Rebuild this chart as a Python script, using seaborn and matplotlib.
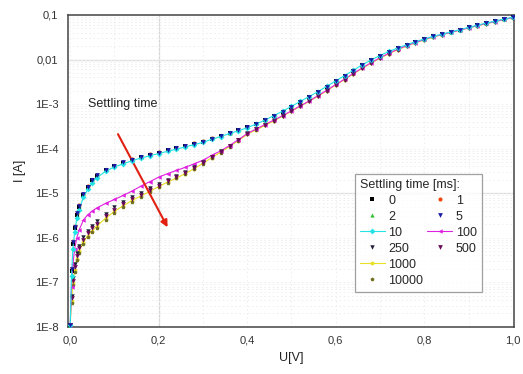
import numpy as np
import pandas as pd
import matplotlib
matplotlib.use("Agg")
import matplotlib.pyplot as plt
from matplotlib.lines import Line2D
from matplotlib.ticker import LogLocator, MultipleLocator, NullFormatter
import seaborn as sns

# voltage steps [V]
U = [0.0, 0.003, 0.006, 0.01, 0.015, 0.02, 0.03, 0.04, 0.05, 0.06,
     0.08, 0.10, 0.12, 0.14, 0.16, 0.18, 0.20, 0.22, 0.24, 0.26,
     0.28, 0.30, 0.32, 0.34, 0.36, 0.38, 0.40, 0.42, 0.44, 0.46,
     0.48, 0.50, 0.52, 0.54, 0.56, 0.58, 0.60, 0.62, 0.64, 0.66,
     0.68, 0.70, 0.72, 0.74, 0.76, 0.78, 0.80, 0.82, 0.84, 0.86,
     0.88, 0.90, 0.92, 0.94, 0.96, 0.98, 1.00]

# log10 of current [A] for each settling time
logI_0 = [-7.95, -6.75, -6.14, -5.78, -5.48, -5.30, -5.04, -4.86, -4.71, -4.61,
          -4.48, -4.39, -4.32, -4.25, -4.19, -4.14, -4.09, -4.04, -3.99, -3.94,
          -3.89, -3.84, -3.78, -3.71, -3.65, -3.59, -3.52, -3.45, -3.36, -3.27,
          -3.17, -3.06, -2.95, -2.84, -2.73, -2.61, -2.49, -2.37, -2.25, -2.13,
          -2.02, -1.92, -1.83, -1.75, -1.67, -1.60, -1.54, -1.48, -1.43, -1.38,
          -1.33, -1.28, -1.23, -1.18, -1.14, -1.09, -1.05]
logI_1 = [-7.95, -6.68, -6.08, -5.74, -5.44, -5.27, -5.01, -4.84, -4.70, -4.60,
          -4.47, -4.38, -4.30, -4.24, -4.18, -4.13, -4.08, -4.03, -3.98, -3.93,
          -3.88, -3.83, -3.77, -3.71, -3.65, -3.58, -3.51, -3.44, -3.36, -3.26,
          -3.16, -3.06, -2.95, -2.84, -2.72, -2.60, -2.48, -2.36, -2.24, -2.13,
          -2.02, -1.92, -1.83, -1.74, -1.67, -1.60, -1.54, -1.48, -1.43, -1.38,
          -1.33, -1.28, -1.23, -1.18, -1.14, -1.09, -1.05]
logI_2 = [-7.95, -6.72, -6.11, -5.76, -5.46, -5.28, -5.02, -4.85, -4.70, -4.59,
          -4.46, -4.37, -4.30, -4.24, -4.18, -4.13, -4.08, -4.03, -3.98, -3.93,
          -3.88, -3.83, -3.77, -3.70, -3.64, -3.58, -3.51, -3.43, -3.35, -3.25,
          -3.15, -3.05, -2.94, -2.83, -2.72, -2.60, -2.48, -2.36, -2.24, -2.12,
          -2.01, -1.91, -1.82, -1.74, -1.67, -1.60, -1.54, -1.48, -1.43, -1.38,
          -1.33, -1.28, -1.23, -1.18, -1.14, -1.09, -1.05]
logI_5 = [-7.95, -6.70, -6.10, -5.75, -5.45, -5.28, -5.02, -4.85, -4.70, -4.60,
          -4.47, -4.38, -4.31, -4.25, -4.19, -4.14, -4.09, -4.04, -3.99, -3.94,
          -3.89, -3.84, -3.78, -3.71, -3.65, -3.59, -3.52, -3.45, -3.36, -3.27,
          -3.17, -3.06, -2.95, -2.84, -2.73, -2.61, -2.49, -2.37, -2.25, -2.13,
          -2.02, -1.92, -1.83, -1.75, -1.67, -1.60, -1.54, -1.48, -1.43, -1.38,
          -1.33, -1.28, -1.23, -1.18, -1.14, -1.09, -1.05]
logI_10 = [-7.95, -6.85, -6.25, -5.88, -5.56, -5.37, -5.09, -4.91, -4.76, -4.65,
           -4.51, -4.41, -4.34, -4.27, -4.21, -4.16, -4.11, -4.06, -4.01, -3.96,
           -3.91, -3.86, -3.79, -3.73, -3.66, -3.60, -3.53, -3.45, -3.36, -3.26,
           -3.16, -3.05, -2.94, -2.83, -2.72, -2.60, -2.48, -2.36, -2.24, -2.12,
           -2.01, -1.91, -1.82, -1.74, -1.67, -1.60, -1.54, -1.48, -1.43, -1.38,
           -1.33, -1.28, -1.23, -1.18, -1.14, -1.09, -1.05]
logI_100 = [-7.95, -7.10, -6.60, -6.25, -6.00, -5.83, -5.60, -5.48, -5.40, -5.33,
            -5.23, -5.14, -5.05, -4.95, -4.84, -4.74, -4.64, -4.56, -4.49, -4.42,
            -4.34, -4.26, -4.15, -4.05, -3.93, -3.80, -3.66, -3.56, -3.46, -3.36,
            -3.26, -3.15, -3.04, -2.93, -2.81, -2.69, -2.56, -2.44, -2.31, -2.19,
            -2.07, -1.96, -1.86, -1.77, -1.69, -1.62, -1.55, -1.49, -1.44, -1.39,
            -1.34, -1.29, -1.24, -1.19, -1.15, -1.10, -1.06]
logI_250 = [-7.95, -7.30, -6.90, -6.60, -6.35, -6.18, -5.98, -5.84, -5.73, -5.63,
            -5.46, -5.32, -5.20, -5.09, -4.99, -4.89, -4.79, -4.70, -4.62, -4.53,
            -4.42, -4.30, -4.18, -4.06, -3.93, -3.80, -3.66, -3.56, -3.46, -3.36,
            -3.26, -3.15, -3.04, -2.93, -2.81, -2.69, -2.56, -2.44, -2.31, -2.19,
            -2.07, -1.96, -1.86, -1.77, -1.69, -1.62, -1.55, -1.49, -1.44, -1.39,
            -1.34, -1.29, -1.24, -1.19, -1.15, -1.10, -1.06]
logI_500 = [-7.95, -7.36, -6.96, -6.66, -6.41, -6.24, -6.04, -5.90, -5.79, -5.69,
            -5.52, -5.37, -5.25, -5.13, -5.03, -4.93, -4.83, -4.73, -4.64, -4.55,
            -4.44, -4.32, -4.19, -4.07, -3.94, -3.81, -3.67, -3.57, -3.47, -3.37,
            -3.27, -3.16, -3.05, -2.94, -2.82, -2.70, -2.57, -2.45, -2.32, -2.20,
            -2.08, -1.97, -1.87, -1.78, -1.70, -1.62, -1.56, -1.50, -1.44, -1.39,
            -1.34, -1.29, -1.24, -1.20, -1.15, -1.10, -1.06]
logI_1000 = [-7.95, -7.42, -7.02, -6.72, -6.47, -6.30, -6.10, -5.95, -5.84, -5.74,
             -5.56, -5.41, -5.28, -5.16, -5.06, -4.96, -4.85, -4.75, -4.66, -4.56,
             -4.45, -4.33, -4.20, -4.08, -3.95, -3.82, -3.68, -3.58, -3.48, -3.38,
             -3.27, -3.16, -3.05, -2.94, -2.82, -2.70, -2.57, -2.45, -2.32, -2.20,
             -2.08, -1.97, -1.87, -1.78, -1.70, -1.62, -1.56, -1.50, -1.44, -1.39,
             -1.34, -1.29, -1.24, -1.20, -1.15, -1.10, -1.06]
logI_10000 = [-7.95, -7.46, -7.06, -6.76, -6.51, -6.34, -6.14, -5.99, -5.88, -5.78,
              -5.60, -5.44, -5.31, -5.19, -5.08, -4.98, -4.87, -4.77, -4.67, -4.57,
              -4.46, -4.34, -4.21, -4.09, -3.96, -3.82, -3.68, -3.58, -3.48, -3.38,
              -3.27, -3.16, -3.05, -2.94, -2.82, -2.70, -2.57, -2.45, -2.32, -2.20,
              -2.08, -1.97, -1.87, -1.78, -1.70, -1.62, -1.56, -1.50, -1.44, -1.39,
              -1.34, -1.29, -1.24, -1.20, -1.15, -1.10, -1.06]

settling_labels = ["0", "1", "2", "5", "10", "100", "250", "500", "1000", "10000"]
series = [logI_0, logI_1, logI_2, logI_5, logI_10, logI_100, logI_250, logI_500, logI_1000, logI_10000]

# styles
colors = ["#000000", "#f04a10", "#30c030", "#1a1aa8", "#22e4e4",
          "#e020e0", "#20203a", "#6a0a5a", "#e8e020", "#707020"]
markers = ["s", "o", "^", "v", "D", "<", "v", "v", "h", "p"]
msizes = [2.3, 3.0, 3.0, 3.4, 3.0, 3.2, 3.2, 3.4, 3.0, 3.0]
with_line = [False, False, False, False, True, True, False, False, True, False]
layer = [3.0, 2.5, 2.6, 3.5, 3.4, 3.0, 3.2, 3.3, 2.4, 2.5]

x_ticks = [0.0, 0.2, 0.4, 0.6, 0.8, 1.0]
x_ticklabels = ["0,0", "0,2", "0,4", "0,6", "0,8", "1,0"]
y_ticks = [1e-8, 1e-7, 1e-6, 1e-5, 1e-4, 1e-3, 1e-2, 1e-1]
y_ticklabels = ["1E-8", "1E-7", "1E-6", "1E-5", "1E-4", "1E-3", "0,01", "0,1"]

rows = []
for lab, vals in zip(settling_labels, series):
    for u, v in zip(U, vals):
        rows.append({"U": u, "I": 10 ** v, "t": lab})
df = pd.DataFrame(rows)

sns.set_style("white")
plt.rcParams["font.family"] = ["Liberation Sans", "DejaVu Sans"]

fig = plt.figure(figsize=(5.23, 3.74), dpi=100)
ax = fig.add_axes([0.130, 0.126, 0.853, 0.834])
ax.set_yscale("log")

# faint dotted grid plus a few light major lines
ax.grid(which="both", color="#ececec", linestyle=(0, (2, 3)), linewidth=0.6)
ax.axvline(0.2, color="#d6d6d6", lw=0.9, zorder=0)
ax.axhline(1e-2, color="#dedede", lw=0.9, zorder=0)
ax.axhline(1e-5, color="#dedede", lw=0.9, zorder=0)

for i, lab in enumerate(settling_labels):
    sub = df[df["t"] == lab]
    sns.lineplot(data=sub, x="U", y="I", ax=ax, color=colors[i], marker=markers[i],
                 markersize=msizes[i], markeredgewidth=0,
                 linewidth=0.8 if with_line[i] else 0,
                 label=lab, sort=False, estimator=None, zorder=layer[i])

ax.set_xlim(-0.005, 1.003)
ax.set_ylim(1e-8, 0.1)
ax.set_xticks(x_ticks)
ax.set_xticklabels(x_ticklabels)
ax.xaxis.set_minor_locator(MultipleLocator(0.1))
ax.set_yticks(y_ticks)
ax.set_yticklabels(y_ticklabels)
ax.yaxis.set_minor_locator(LogLocator(base=10, subs=np.arange(2, 10)))
ax.yaxis.set_minor_formatter(NullFormatter())
ax.tick_params(which="both", direction="in", top=False, right=False,
               colors="#333333", labelsize=8)
ax.tick_params(which="major", length=4, width=0.9)
ax.tick_params(which="minor", length=2, width=0.6)
ax.tick_params(axis="y", pad=7)
ax.tick_params(axis="x", pad=6)
for s in ax.spines.values():
    s.set_color("#444444")
    s.set_linewidth(1.1)

ax.set_xlabel("U[V]", fontsize=9, color="#222222", labelpad=5)
ax.set_ylabel("I [A]", fontsize=9, color="#222222", labelpad=6)

ax.text(0.04, 1e-3, "Settling time", fontsize=9, va="center", ha="left", color="#222222")
ax.annotate("", xy=(0.223, 10 ** -5.82), xytext=(0.105, 10 ** -3.62),
            arrowprops=dict(arrowstyle="-|>", color="#e02010", lw=1.5,
                            mutation_scale=10))

# legend: first column 6 entries, second column 4 (two blank fillers)
handles, labels = ax.get_legend_handles_labels()
hmap = dict(zip(labels, handles))
blank = Line2D([], [], linestyle="none", marker=None)
col1 = ["0", "2", "10", "250", "1000", "10000"]
col2 = ["1", "5", "100", "500"]
h_order = [hmap[k] for k in col1] + [hmap[k] for k in col2] + [blank, blank]
l_order = col1 + col2 + ["", ""]
leg = ax.legend(h_order, l_order, ncol=2, title="Settling time [ms]:",
                loc="lower right", bbox_to_anchor=(0.942, 0.093),
                fontsize=9, title_fontsize=9, frameon=True, fancybox=False,
                edgecolor="#888888", handlelength=2.0, handletextpad=0.3,
                columnspacing=0.3, labelspacing=0.32, borderpad=0.4)
leg._legend_box.align = "left"
leg.get_frame().set_linewidth(0.9)

fig.savefig("out.png", dpi=100)
